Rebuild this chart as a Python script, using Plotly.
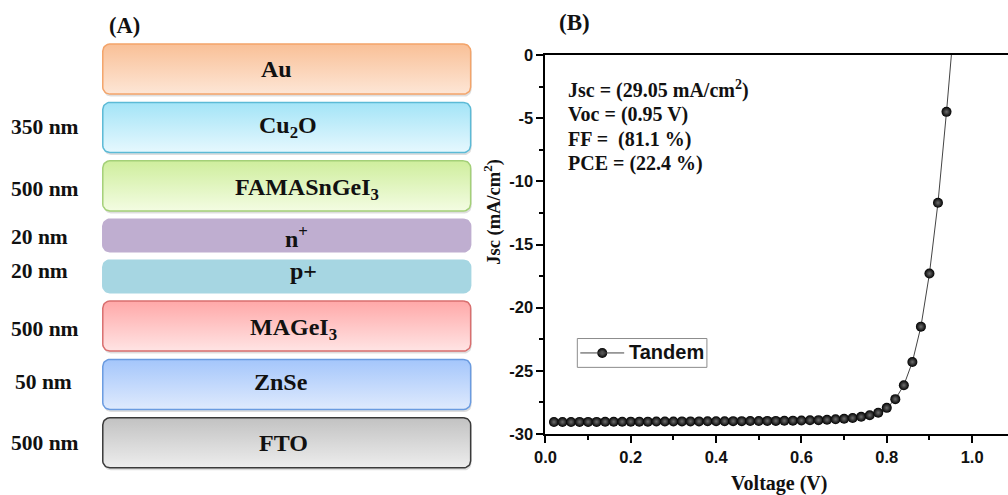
import numpy as np
import plotly.graph_objects as go

# ---------------- J-V data of the tandem cell ----------------
voltage = [0.02, 0.04, 0.06, 0.08, 0.10, 0.12, 0.14, 0.16, 0.18, 0.20,
           0.22, 0.24, 0.26, 0.28, 0.30, 0.32, 0.34, 0.36, 0.38, 0.40,
           0.42, 0.44, 0.46, 0.48, 0.50, 0.52, 0.54, 0.56, 0.58, 0.60,
           0.62, 0.64, 0.66, 0.68, 0.70, 0.72, 0.74, 0.76, 0.78, 0.80,
           0.82, 0.84, 0.86, 0.88, 0.90, 0.92, 0.94, 0.96]
current = [-29.05, -29.05, -29.05, -29.04, -29.04, -29.04, -29.03, -29.03, -29.03, -29.02,
           -29.02, -29.02, -29.01, -29.01, -29.01, -29.00, -29.00, -29.00, -28.99, -28.99,
           -28.99, -28.98, -28.98, -28.97, -28.97, -28.96, -28.96, -28.95, -28.94, -28.93,
           -28.91, -28.90, -28.87, -28.83, -28.79, -28.73, -28.64, -28.51, -28.31, -27.93,
           -27.24, -26.14, -24.30, -21.50, -17.30, -11.70, -4.50, 3.40]
series_name = "Tandem"

x_tickvals = [0.0, 0.2, 0.4, 0.6, 0.8, 1.0]
x_ticktext = ["0.0", "0.2", "0.4", "0.6", "0.8", "1.0"]
y_tickvals = [-30, -25, -20, -15, -10, -5, 0]
y_ticktext = ["-30", "-25", "-20", "-15", "-10", "-5", "0"]

params = ["Jsc = (29.05 mA/cm<sup>2</sup>)", "Voc = (0.95 V)",
          "FF =  (81.1 %)", "PCE = (22.4 %)"]

# ---------------- device stack (top to bottom) ----------------
layer_names = ["Au", "Cu<sub>2</sub>O", "FAMASnGeI<sub>3</sub>", "n<sup>+</sup>",
               "p+", "MAGeI<sub>3</sub>", "ZnSe", "FTO"]
layer_thickness = ["", "350 nm", "500 nm", "20 nm", "20 nm", "500 nm", "50 nm", "500 nm"]
layer_thin = [False, False, False, True, True, False, False, False]
layer_top_color = ["#fde6d6", "#e6f8fe", "#f3fce2", "#bfaed0",
                   "#a6d6e2", "#ffe4e4", "#dfeafd", "#ededed"]
layer_bottom_color = ["#f9c097", "#a3e4f7", "#cfee9d", "#bfaed0",
                      "#a6d6e2", "#ffa8a8", "#a4c6fb", "#c2c2c2"]
layer_edge_color = ["#f3a46a", "#5cbad6", "#a4d078", "#bfaed0",
                    "#a6d6e2", "#d96f6f", "#6a9be0", "#3a3a3a"]
# horizontal / vertical shift of each label from the box centre
label_dx = [-10, 1, 20, 10, 17, 7, -6, -3]
label_dy = [0, 0, 3, 1, -5, 3, -2, 0]

FIG_SERIF = "Liberation Serif"
FIG_SANS = "Liberation Sans"

# figure size; the page around it adds an 8 px body margin and the whole page
# is then fitted to the screen, so layout positions are given in screen pixels
# and converted to figure coordinates here.
W, H = 1008, 495
BODY = 8
SX = W / (W + BODY)
SY = H / (H + 2 * BODY)


def fig_x(X):
    return X / SX - BODY


def fig_y(Y):
    return Y / SY - BODY


def rounded_rect(x0, y0, x1, y1, r, n=10):
    """outline of a rounded rectangle in screen pixels (y grows downward)"""
    xs, ys = [], []
    corners = [(x1 - r, y0 + r, -np.pi / 2, 0.0),
               (x1 - r, y1 - r, 0.0, np.pi / 2),
               (x0 + r, y1 - r, np.pi / 2, np.pi),
               (x0 + r, y0 + r, np.pi, 1.5 * np.pi)]
    for cx, cy, a0, a1 in corners:
        t = np.linspace(a0, a1, n)
        xs.extend(cx + r * np.cos(t))
        ys.extend(cy + r * np.sin(t))
    xs.append(xs[0])
    ys.append(ys[0])
    return xs, ys


def label(x, y, text, size, family=FIG_SERIF, xanchor="center", angle=0, xshift=0):
    return dict(x=x, y=y, xref="x2", yref="y2", text="<b>" + text + "</b>",
                showarrow=False, xanchor=xanchor, yanchor="middle", textangle=angle,
                xshift=xshift, font=dict(family=family, size=size, color="#111"))


fig = go.Figure()
annotations = []
shapes = []

# ---------------- panel (A): layer stack ----------------
box_x0, box_x1 = 100, 469
thick_h, thin_h, gap = 50.3, 32.7, 8.4
top = 43.0
for i, name in enumerate(layer_names):
    h = thin_h if layer_thin[i] else thick_h
    y0, y1 = top, top + h
    radius = 7
    if not layer_thin[i]:
        sx, sy = rounded_rect(box_x0 + 1, y0 + 2.5, box_x1 + 1, y1 + 2.5, radius)
        fig.add_trace(go.Scatter(x=sx, y=sy, mode="lines", fill="toself",
                                 fillcolor="rgba(0,0,0,0.13)",
                                 line=dict(width=0, color="rgba(0,0,0,0)"),
                                 xaxis="x2", yaxis="y2", hoverinfo="skip",
                                 showlegend=False))
    bx, by = rounded_rect(box_x0, y0, box_x1, y1, radius)
    fig.add_trace(go.Scatter(
        x=bx, y=by, mode="lines", fill="toself",
        fillcolor=layer_bottom_color[i],
        fillgradient=dict(type="vertical",
                          colorscale=[[0, layer_top_color[i]],
                                      [1, layer_bottom_color[i]]]),
        line=dict(width=1.5, color=layer_edge_color[i]),
        xaxis="x2", yaxis="y2", hoverinfo="skip", showlegend=False))
    cy = (y0 + y1) / 2
    annotations.append(label((box_x0 + box_x1) / 2 + label_dx[i], cy + label_dy[i],
                             name, 24))
    if layer_thickness[i]:
        shift = 0 if layer_thickness[i] == "50 nm" else -4
        annotations.append(label(10, cy + label_dy[i], layer_thickness[i], 21.5,
                                 xanchor="left", xshift=shift))
    top = y1 + gap

annotations.append(label(122, 24, "(A)", 22.5))

# ---------------- panel (B): J-V curve ----------------
marker_style = dict(size=10, color="#000000",
                    gradient=dict(type="radial", color="#6e6e6e"),
                    line=dict(width=0))
fig.add_trace(go.Scatter(
    x=voltage, y=current, mode="lines+markers", name=series_name,
    line=dict(color="#444444", width=1), marker=marker_style,
    cliponaxis=True, showlegend=False))

annotations.append(label(573, 21, "(B)", 23))
for k, line in enumerate(params):
    annotations.append(label(565, 89 + 24.8 * k, line, 20, xanchor="left"))
annotations.append(label(778, 485, "Voltage (V)", 20))
annotations.append(label(491, 212, "Jsc (mA/cm<sup>2</sup>)", 18.5, angle=-90))

# legend box drawn in screen pixels
leg_x0, leg_x1, leg_y0, leg_y1 = 576, 706, 339, 368
leg_cy = (leg_y0 + leg_y1) / 2
shapes.append(dict(type="rect", xref="x2", yref="y2", x0=leg_x0, x1=leg_x1,
                   y0=leg_y0, y1=leg_y1, line=dict(color="#8c8c8c", width=1),
                   fillcolor="white", layer="below"))
shapes.append(dict(type="line", xref="x2", yref="y2", x0=579, x1=623,
                   y0=leg_cy, y1=leg_cy, line=dict(color="#444444", width=1)))
fig.add_trace(go.Scatter(x=[601], y=[leg_cy], mode="markers", marker=marker_style,
                         xaxis="x2", yaxis="y2", hoverinfo="skip", showlegend=False))
annotations.append(label(626, leg_cy - 1, series_name, 20, family=FIG_SANS,
                         xanchor="left"))

# ---------------- axes ----------------
x_left, x_px_per_v = 544, 428
y_top, y_bottom = 54, 435
x_end = (W - x_left) / x_px_per_v

axis_common = dict(showline=True, linewidth=2, linecolor="black", ticks="outside",
                   ticklen=7, tickwidth=2, tickcolor="black", showgrid=False,
                   zeroline=False, tickmode="array",
                   tickfont=dict(family=FIG_SANS, size=16.5, color="#111", weight="bold"))

fig.update_layout(
    width=W, height=H, margin=dict(l=0, r=0, t=0, b=0),
    paper_bgcolor="white", plot_bgcolor="rgba(0,0,0,0)",
    xaxis=dict(domain=[fig_x(x_left) / W, 1.0], range=[0, x_end],
               tickvals=x_tickvals, ticktext=x_ticktext, mirror=True,
               minor=dict(tickmode="linear", tick0=0, dtick=0.1, ticks="outside",
                          ticklen=4, tickwidth=1.5, tickcolor="black"),
               anchor="y", **axis_common),
    yaxis=dict(domain=[1 - fig_y(y_bottom) / H, 1 - fig_y(y_top) / H], range=[-30, 0],
               tickvals=y_tickvals, ticktext=y_ticktext,
               minor=dict(tickmode="linear", tick0=0, dtick=2.5, ticks="outside",
                          ticklen=4, tickwidth=1.5, tickcolor="black"),
               anchor="x", **axis_common),
    # full-figure overlay axes in screen pixels for the schematic and legend
    xaxis2=dict(domain=[0, 1], range=[SX * BODY, SX * (BODY + W)], visible=False,
                fixedrange=True, anchor="y2"),
    yaxis2=dict(domain=[0, 1], range=[SY * (BODY + H), SY * BODY], visible=False,
                fixedrange=True, anchor="x2"),
    showlegend=False,
    annotations=annotations,
    shapes=shapes,
)

fig.write_html("out.html")
